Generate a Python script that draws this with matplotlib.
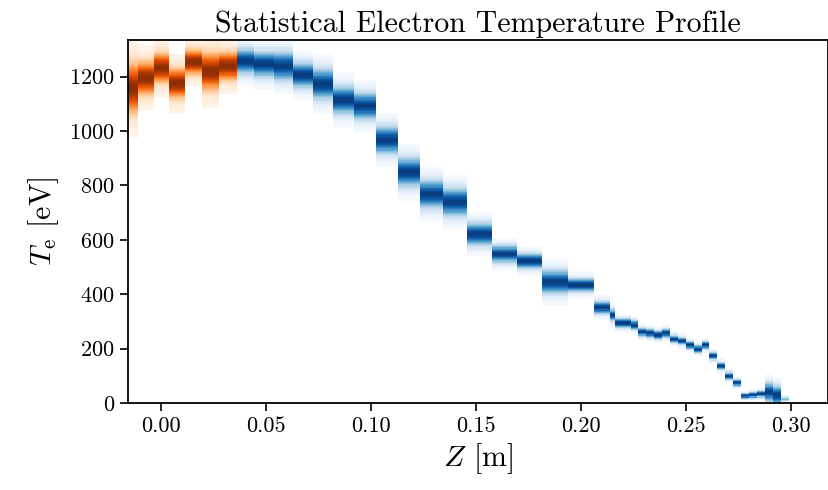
import numpy as np
import matplotlib
matplotlib.use('Agg')
from matplotlib import pyplot as plt

plt.rcParams['font.family'] = 'serif'
plt.rcParams['font.serif'] = ['cmr10']
plt.rcParams['mathtext.fontset'] = 'cm'
plt.rcParams['axes.formatter.use_mathtext'] = True

# bin edges along Z [m]
z_edges = [-0.0157, -0.0110, -0.0033, 0.0038, 0.0114, 0.0195, 0.0276, 0.0362,
           0.0443, 0.0538, 0.0629, 0.0724, 0.0819, 0.0919, 0.1024, 0.1129,
           0.1233, 0.1343, 0.1457, 0.1576, 0.1695, 0.1814, 0.1938, 0.2062,
           0.2138, 0.2162, 0.2200, 0.2238, 0.2271, 0.2310, 0.2348, 0.2386,
           0.2424, 0.2462, 0.2500, 0.2538, 0.2576, 0.2610, 0.2648, 0.2686,
           0.2724, 0.2762, 0.2800, 0.2838, 0.2876, 0.2914, 0.2952, 0.2990]

# most probable temperature per bin [eV]
t_peak = [1158, 1195, 1232, 1176, 1254, 1220, 1239,
          1257, 1246, 1239, 1206, 1173, 1114, 1092, 967, 849, 768, 739,
          621, 548, 522, 445, 434, 351,
          323, 294, 294, 286, 261, 257, 250, 257, 235, 228, 213, 198, 213,
          173, 136, 99, 74, 26, 29, 33, 40, 29, 15]

# spread per bin [eV]
t_spread = [60, 40, 36, 36, 30, 45, 34,
            30, 30, 34, 30, 36, 33, 32, 33, 34, 33, 33,
            27, 20, 18, 28, 16, 15,
            14, 11, 11, 11, 10, 10, 10, 10, 9, 9, 9, 9, 9,
            9, 9, 9, 8, 6, 7, 8, 22, 22, 5]

# peak intensity per bin
t_weight = [1.0] * 46 + [0.5]

# bins belonging to the first (orange) region
n_orange = 7

t_grid = np.arange(0, 1404, 4)
t_mid = 0.5 * (t_grid[1:] + t_grid[:-1])

fig = plt.figure(figsize=(8.29, 4.90), dpi=100)
ax = fig.add_axes([0.1544, 0.1776, 0.8438, 0.7408])

for i in range(len(t_peak)):
    dens = t_weight[i] * np.exp(-0.5 * ((t_mid - t_peak[i]) / t_spread[i]) ** 2)
    dens = np.ma.masked_less(dens, 0.01)
    cmap = 'Oranges' if i < n_orange else 'Blues'
    ax.pcolormesh([z_edges[i], z_edges[i + 1]], t_grid, dens[:, None],
                  cmap=cmap, vmin=0, vmax=1.05, shading='flat', linewidth=0)

ax.set_xlim(-0.0157, 0.3174)
ax.set_ylim(0, 1335)
ax.set_xticks([0.0, 0.05, 0.10, 0.15, 0.20, 0.25, 0.30])
ax.set_xticklabels(['0.00', '0.05', '0.10', '0.15', '0.20', '0.25', '0.30'])
ax.set_yticks([0, 200, 400, 600, 800, 1000, 1200])

for s in ax.spines.values():
    s.set_linewidth(1.3)
ax.tick_params(labelsize=16, length=6, width=1.2)

ax.set_title('Statistical Electron Temperature Profile', fontsize=21.5, pad=6)
ax.set_xlabel(r'$Z$ [m]', fontsize=21.5, labelpad=4)
ax.set_ylabel(r'$T_\mathrm{e}$ [eV]', fontsize=21.5, labelpad=6)

fig.savefig('out.png', dpi=100)
